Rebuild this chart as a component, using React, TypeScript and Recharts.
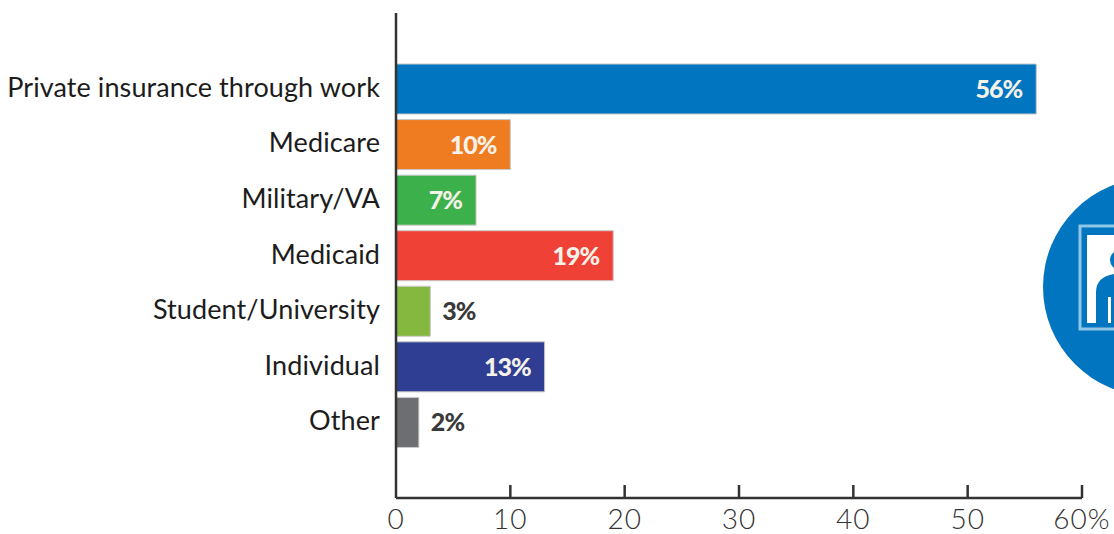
import React from "react";
import { BarChart, Bar, XAxis, YAxis, Cell, LabelList } from "recharts";

const categories = ["Private insurance through work", "Medicare", "Military/VA", "Medicaid", "Student/University", "Individual", "Other"];
const shares = [56, 10, 7, 19, 3, 13, 2];
const colors = ["#0175bf", "#f07c22", "#3cb04b", "#ef4135", "#84b83f", "#2f3e92", "#6d6e71"];
const xTicks = [0, 10, 20, 30, 40, 50, 60];
const data = categories.map((name, i) => ({ name, share: shares[i] }));

const FONT = "Lato, 'Open Sans', sans-serif";

const XTick = (props: any) => {
  const { x, y, payload } = props;
  return (
    <g>
      {payload.value !== 0 && <line x1={x} x2={x} y1={y} y2={y - 13} stroke="#333" strokeWidth={2.5} />}
      <text x={x} y={y + 31} textAnchor="middle" fontFamily={FONT} fontWeight={300} fontSize={28} letterSpacing={1} fill="#333">
        {payload.value === 60 ? "60%" : payload.value}
      </text>
    </g>
  );
};

const YTick = (props: any) => {
  const { x, y, payload } = props;
  return (
    <text x={x} y={y + 8} textAnchor="end" fontFamily={FONT} fontSize={27} letterSpacing={0.1} fill="#1c1c1c">
      {payload.value}
    </text>
  );
};

const ValueLabel = (props: any) => {
  const { x, y, width, height, value } = props;
  const inside = value >= 7;
  return (
    <text
      x={inside ? x + width - 14 : x + width + 12}
      y={y + height / 2 + 9}
      textAnchor={inside ? "end" : "start"}
      fontFamily={FONT}
      fontWeight={900}
      fontSize={25}
      letterSpacing={-1}
      fill={inside ? "#f4f1e8" : "#3a3a3a"}
    >
      {value}%
    </text>
  );
};

export default function App() {
  return (
    <div style={{ position: "absolute", left: 0, top: 0, width: 1114, height: 534, overflow: "hidden", background: "#fff" }}>
      <BarChart
        width={1114}
        height={534}
        layout="vertical"
        data={data}
        margin={{ top: 13, right: 32, bottom: 0, left: 0 }}
        barCategoryGap={3}
      >
        <XAxis
          type="number"
          domain={[0, 60]}
          ticks={xTicks}
          interval={0}
          height={36}
          tickSize={0}
          tickMargin={0}
          tickLine={false}
          tick={<XTick />}
          axisLine={{ stroke: "#333", strokeWidth: 2.5 }}
        />
        <YAxis
          type="category"
          dataKey="name"
          width={396}
          interval={0}
          padding={{ top: 48, bottom: 48 }}
          tickSize={0}
          tickMargin={16}
          tickLine={false}
          tick={<YTick />}
          axisLine={{ stroke: "#333", strokeWidth: 2.5 }}
        />
        <Bar dataKey="share" isAnimationActive={false} stroke="#c9c9c9" strokeWidth={1}>
          {data.map((d, i) => (
            <Cell key={d.name} fill={colors[i]} />
          ))}
          <LabelList dataKey="share" content={<ValueLabel />} />
        </Bar>
      </BarChart>
      <svg width={1114} height={534} style={{ position: "absolute", left: 0, top: 0, pointerEvents: "none" }}>
        <circle cx={1152} cy={287} r={109} fill="#0175bf" />
        <rect x={1080} y={226} width={80} height={103} fill="none" stroke="#8fc6e8" strokeWidth={3} />
        <rect x={1087} y={235} width={60} height={88} fill="#fff" />
        <path d="M1096 324 V292 Q1096 277 1114 274 V324 H1111 V297 H1108 V324 Z" fill="#0175bf" />
        <circle cx={1120} cy={260} r={10} fill="#0175bf" />
      </svg>
    </div>
  );
}
